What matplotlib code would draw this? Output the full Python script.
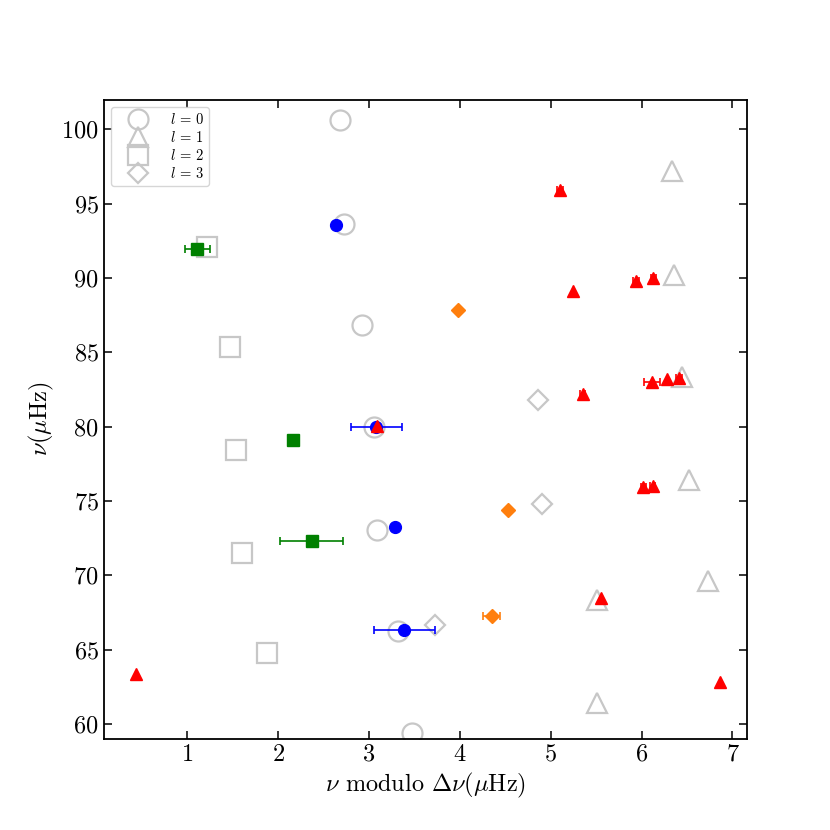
import numpy as np
import matplotlib
matplotlib.use('Agg')
import matplotlib.pyplot as plt

plt.rcParams['font.family'] = 'serif'
plt.rcParams['font.serif'] = ['cmr10']
plt.rcParams['mathtext.fontset'] = 'cm'
plt.rcParams['axes.formatter.use_mathtext'] = True

# model frequencies (hollow gray), echelle x and frequency y
l0_x = [2.68, 2.72, 2.92, 3.06, 3.09, 3.32, 3.47]
l0_y = [100.6, 93.6, 86.83, 79.97, 73.03, 66.27, 59.41]
l1_x = [6.33, 6.36, 6.45, 6.52, 6.73, 5.51, 5.51]
l1_y = [97.17, 90.21, 83.32, 76.39, 69.58, 68.34, 61.4]
l2_x = [1.22, 1.47, 1.54, 1.60, 1.88]
l2_y = [92.07, 85.34, 78.42, 71.5, 64.78]
l3_x = [3.73, 4.90, 4.86]
l3_y = [66.68, 74.82, 81.76]

# observed modes with x errors
b_x = [2.64, 3.08, 3.29, 3.39]
b_y = [93.54, 80.0, 73.21, 66.32]
b_err = [0.04, 0.28, 0.0, 0.335]

r_x = [5.10, 5.25, 5.94, 6.13, 5.35, 6.11, 6.28, 6.41, 3.09, 6.02, 6.12, 5.55, 0.43, 6.86]
r_y = [95.92, 89.14, 89.81, 89.99, 82.2, 83.0, 83.17, 83.28, 80.03, 75.94, 76.03, 68.47, 63.32, 62.8]
r_err = [0.03, 0.0, 0.03, 0.03, 0.03, 0.088, 0.0, 0.03, 0.02, 0.03, 0.03, 0.0, 0.0, 0.0]

g_x = [1.11, 2.16, 2.37]
g_y = [91.96, 79.07, 72.3]
g_err = [0.135, 0.0, 0.346]

o_x = [3.98, 4.53, 4.35]
o_y = [87.84, 74.42, 67.26]
o_err = [0.0, 0.0, 0.094]

fig = plt.figure(figsize=(8.3, 8.3), dpi=100)
ax = fig.add_subplot(111)

gray = '0.78'
hollow = dict(ls='none', mfc='none', mec=gray, mew=1.6)
ax.plot(l0_x, l0_y, 'o', ms=14.4, label=r'$l\,=\,0$', **hollow)
ax.plot(l1_x, l1_y, '^', ms=15, label=r'$l\,=\,1$', **hollow)
ax.plot(l2_x, l2_y, 's', ms=14.4, label=r'$l\,=\,2$', **hollow)
ax.plot(l3_x, l3_y, 'D', ms=10.5, label=r'$l\,=\,3$', **hollow)

eb = dict(ls='none', capsize=3.2, elinewidth=1.2, capthick=1.2)
ax.errorbar(g_x, g_y, xerr=g_err, fmt='s', color='g', ms=8, **eb)
ax.errorbar(o_x, o_y, xerr=o_err, fmt='D', color='#ff7f0e', ms=7.5, **eb)
ax.errorbar(b_x, b_y, xerr=b_err, fmt='o', color='b', ms=8.5, **eb)
ax.errorbar(r_x, r_y, xerr=r_err, fmt='^', color='r', ms=9, **eb)

ax.set_xlim(0.08, 7.16)
ax.set_ylim(59.0, 102.0)
ax.set_xticks(np.arange(1, 8))
ax.set_yticks(np.arange(60, 101, 5))
ax.tick_params(direction='in', top=True, right=True, length=6, width=1.1,
               labelsize=17.5)
for s in ax.spines.values():
    s.set_linewidth(1.3)

ax.set_xlabel(r'$\nu$ modulo $\Delta\nu(\mu$Hz$)$', fontsize=17.5)
ax.set_ylabel(r'$\nu(\mu$Hz$)$', fontsize=17.5)

ax.legend(loc='upper left', fontsize=10.5, labelspacing=0.2, handlelength=3.0,
          handletextpad=0.7, borderpad=0.35)

fig.savefig('out.png', dpi=100)
